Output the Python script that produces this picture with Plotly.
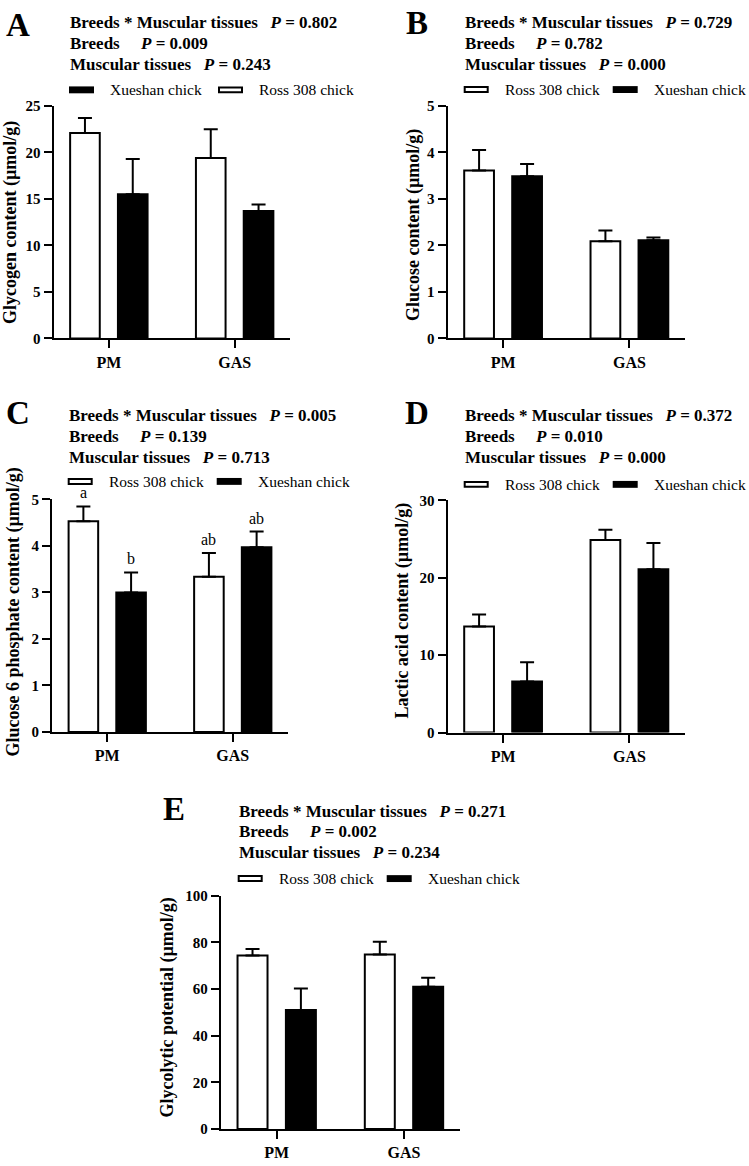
import plotly.graph_objects as go

W, H = 749, 1166
SERIF = "Liberation Serif, Times New Roman, serif"

# ---------------- data ----------------
categories = ["PM", "GAS"]
ross_name = "Ross 308 chick"
xue_name = "Xueshan chick"

# A  Glycogen
glycogen_ross = [22.1, 19.4]
glycogen_ross_err = [1.6, 3.1]
glycogen_xue = [15.5, 13.7]
glycogen_xue_err = [3.8, 0.7]
glycogen_p = ["0.802", "0.009", "0.243"]

# B  Glucose
glucose_ross = [3.61, 2.09]
glucose_ross_err = [0.44, 0.23]
glucose_xue = [3.49, 2.11]
glucose_xue_err = [0.26, 0.06]
glucose_p = ["0.729", "0.782", "0.000"]

# C  Glucose 6 phosphate
g6p_ross = [4.53, 3.34]
g6p_ross_err = [0.32, 0.51]
g6p_xue = [3.00, 3.97]
g6p_xue_err = [0.43, 0.34]
g6p_p = ["0.005", "0.139", "0.713"]
g6p_ross_letters = ["a", "ab"]
g6p_xue_letters = ["b", "ab"]

# D  Lactic acid
lactic_ross = [13.7, 24.9]
lactic_ross_err = [1.55, 1.3]
lactic_xue = [6.6, 21.1]
lactic_xue_err = [2.5, 3.4]
lactic_p = ["0.372", "0.010", "0.000"]

# E  Glycolytic potential
gp_ross = [74.4, 74.8]
gp_ross_err = [2.8, 5.5]
gp_xue = [51.0, 61.0]
gp_xue_err = [9.2, 3.8]
gp_p = ["0.271", "0.002", "0.234"]

panel_letters = ["A", "B", "C", "D", "E"]
y_titles = [
    "Glycogen content (µmol/g)",
    "Glucose content (µmol/g)",
    "Glucose 6 phosphate content (µmol/g)",
    "Lactic acid content (µmol/g)",
    "Glycolytic potential (µmol/g)",
]
y_max = [25, 5, 5, 30, 100]
y_dtick = [5, 1, 1, 10, 20]

panel_data = [
    (glycogen_ross, glycogen_ross_err, glycogen_xue, glycogen_xue_err, glycogen_p, None, None),
    (glucose_ross, glucose_ross_err, glucose_xue, glucose_xue_err, glucose_p, None, None),
    (g6p_ross, g6p_ross_err, g6p_xue, g6p_xue_err, g6p_p, g6p_ross_letters, g6p_xue_letters),
    (lactic_ross, lactic_ross_err, lactic_xue, lactic_xue_err, lactic_p, None, None),
    (gp_ross, gp_ross_err, gp_xue, gp_xue_err, gp_p, None, None),
]
legend_order = [[xue_name, ross_name], [ross_name, xue_name], [ross_name, xue_name],
                [ross_name, xue_name], [ross_name, xue_name]]

# ---------------- layout geometry (pixels) ----------------
# axes box: left, right, top, bottom
axes_px = [
    (53.5, 290, 99.3, 335),
    (447.5, 685, 99.3, 335),
    (52, 288, 498.3, 734),
    (447.5, 685, 499.3, 734.7),
    (220.7, 460, 900, 1136.7),
]
# stat text block: left x, 3 line centres, legend centre
text_px = [
    (68, [15, 35.7, 57], 83),
    (462.7, [14.3, 35.7, 57], 82.7),
    (66.7, [413.3, 434.5, 455.3], 480),
    (462.7, [413.3, 434.7, 455.7], 483),
    (236.7, [814.7, 835, 856.7], 882.7),
]
letter_px = [(18, 17.5), (416.7, 15), (17.5, 410.5), (416.5, 410.5), (173.7, 812.5)]
ytitle_px = [(10, 218), (414, 220), (14, 613), (402.5, 611.5), (167.5, 1014)]

BARGAP, GROUPGAP = 0.24, 0.38
XRANGE = [-0.44, 1.44]


def X(px):
    return px / W


def Y(py):
    return 1 - py / H


fig = go.Figure()
annotations = []
shapes = []

for i, (ross, ross_e, xue, xue_e, pv, lr, lx) in enumerate(panel_data):
    n = i + 1
    xa, ya = f"x{n}", f"y{n}"
    for vals, errs, name, fill in [(ross, ross_e, ross_name, "white"), (xue, xue_e, xue_name, "black")]:
        fig.add_trace(go.Bar(
            x=categories, y=vals, name=name, xaxis=xa, yaxis=ya, showlegend=False,
            marker=dict(color=fill, line=dict(color="black", width=2)),
            error_y=dict(type="data", array=errs, arrayminus=[0] * len(errs), symmetric=False,
                         color="black", thickness=2, width=7),
        ))

    l, r, t, b = axes_px[i]
    axis_common = dict(showline=True, linecolor="black", linewidth=2, ticks="outside",
                       ticklen=8, tickwidth=2, tickcolor="black", showgrid=False, zeroline=False)
    fig.update_layout(**{
        f"xaxis{n}": dict(domain=[X(l), X(r)], anchor=ya, type="category", range=XRANGE,
                          tickfont=dict(family=SERIF, size=16, color="black", weight="bold"),
                          **axis_common),
        f"yaxis{n}": dict(domain=[Y(b), Y(t)], anchor=xa, range=[0, y_max[i]], tick0=0,
                          dtick=y_dtick[i],
                          tickfont=dict(family=SERIF, size=15, color="black", weight="bold"),
                          **axis_common),
    })

    # panel letter
    lxp, lyp = letter_px[i]
    annotations.append(dict(text=f"<b>{panel_letters[i]}</b>", x=X(lxp), y=Y(lyp), xref="paper",
                            yref="paper", xanchor="center", yanchor="middle", showarrow=False,
                            font=dict(family=SERIF, size=33, color="black")))
    # y title
    tx, ty = ytitle_px[i]
    annotations.append(dict(text=f"<b>{y_titles[i]}</b>", x=X(tx), y=Y(ty), xref="paper",
                            yref="paper", xanchor="center", yanchor="middle", textangle=-90,
                            showarrow=False, font=dict(family=SERIF, size=18, color="black")))
    # statistics lines
    x0, line_ys, leg_y = text_px[i]
    sp3 = "\u00a0" * 3
    sp5 = "\u00a0" * 5
    lines = [
        f"<b>Breeds * Muscular tissues{sp3}<i>P</i> = {pv[0]}</b>",
        f"<b>Breeds{sp5}<i>P</i> = {pv[1]}</b>",
        f"<b>Muscular tissues{sp3}<i>P</i> = {pv[2]}</b>",
    ]
    for txt, ly in zip(lines, line_ys):
        annotations.append(dict(text=txt, x=X(x0), y=Y(ly), xref="paper", yref="paper",
                                xanchor="left", yanchor="middle", showarrow=False,
                                font=dict(family=SERIF, size=17, color="black")))
    # custom legend
    for k, name in enumerate(legend_order[i]):
        sx = x0 + 1 + 149 * k
        if name == ross_name:
            shapes.append(dict(type="rect", xref="paper", yref="paper",
                               x0=X(sx + 1), x1=X(sx + 24), y0=Y(leg_y + 2.5), y1=Y(leg_y - 2.5),
                               fillcolor="white", line=dict(color="black", width=2)))
        else:
            shapes.append(dict(type="rect", xref="paper", yref="paper",
                               x0=X(sx), x1=X(sx + 25), y0=Y(leg_y + 3.5), y1=Y(leg_y - 3.5),
                               fillcolor="black", line=dict(width=0)))
        annotations.append(dict(text=name, x=X(sx + 39), y=Y(leg_y), xref="paper", yref="paper",
                                xanchor="left", yanchor="middle", showarrow=False,
                                font=dict(family=SERIF, size=15.5, color="black")))
    # significance letters
    if lr is not None:
        half = (1 - BARGAP) / 4
        for letters, vals, errs, off in [(lr, ross, ross_e, -half), (lx, xue, xue_e, half)]:
            for j, (let, v, e) in enumerate(zip(letters, vals, errs)):
                annotations.append(dict(text=let, x=j + off, y=v + e, xref=xa, yref=ya,
                                        xanchor="center", yanchor="bottom", yshift=3,
                                        showarrow=False,
                                        font=dict(family=SERIF, size=16, color="black")))

fig.update_layout(
    width=W, height=H, autosize=False,
    margin=dict(l=0, r=0, t=0, b=0),
    paper_bgcolor="white", plot_bgcolor="white",
    barmode="group", bargap=BARGAP, bargroupgap=GROUPGAP,
    font=dict(family=SERIF, color="black"),
    annotations=annotations, shapes=shapes,
)

fig.write_html("out.html", config={"displayModeBar": False},
               post_script="document.body.style.margin='0';")
